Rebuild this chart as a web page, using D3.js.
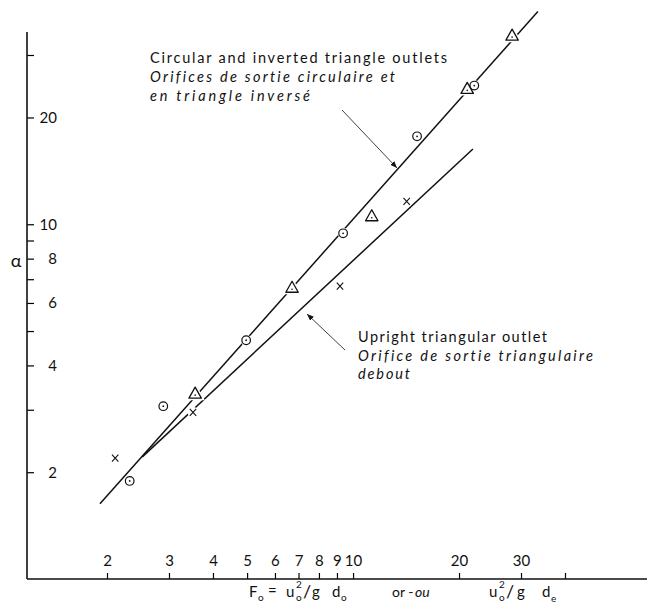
<!DOCTYPE html>
<html>
<head>
<meta charset="utf-8">
<script src="https://cdn.jsdelivr.net/npm/d3@7"></script>
<style>
  body { margin: 0; background: #fff; }
  svg text { font-family: "Lato", "DejaVu Sans", sans-serif; fill: #111; font-variant-ligatures: none; }
</style>
</head>
<body>
<svg id="chart" width="647" height="612"></svg>
<script>
// Data (Fo on x, alpha on y)
var circleX = [2.32, 2.89, 4.97, 9.37, 15.2, 22.1];
var circleY = [1.89, 3.07, 4.71, 9.43, 17.7, 24.6];
var triX = [3.56, 6.71, 11.3, 21.1, 28.3];
var triY = [3.32, 6.6, 10.5, 24.0, 33.9];
var crossX = [2.11, 3.51, 9.18, 14.2];
var crossY = [2.19, 2.95, 6.69, 11.6];

// fitted lines, end points
var upperLine = [[1.91, 1.63], [33.5, 39.8]];
var lowerLine = [[2.52, 2.21], [21.9, 16.3]];

var xTicks = [2, 3, 4, 5, 6, 7, 8, 9, 10, 20, 30, 40];
var xLabels = [2, 3, 4, 5, 6, 7, 8, 9, 10, 20, 30];
var yTicks = [2, 3, 4, 5, 6, 7, 8, 9, 10, 20, 30];
var yLabels = [2, 4, 6, 8, 10, 20];

var svg = d3.select("#chart");

var x = d3.scaleLog().domain([2, 40]).range([107, 565]);
var y = d3.scaleLog().domain([1, 30]).range([579, 55]);

// axes
var xAxis = d3.axisTop(x)
    .tickValues(xTicks)
    .tickSize(6)
    .tickSizeOuter(0)
    .tickPadding(7)
    .tickFormat(function(d) { return xLabels.indexOf(d) >= 0 ? d : ""; });

var gx = svg.append("g").attr("transform", "translate(0,579)").call(xAxis);
gx.select(".domain").remove();
gx.selectAll("text").style("font-size", "15px");
gx.selectAll("line").attr("stroke-width", 1.2);

var yAxis = d3.axisRight(y)
    .tickValues(yTicks)
    .tickSize(7)
    .tickSizeOuter(0)
    .tickFormat(function(d) { return yLabels.indexOf(d) >= 0 ? d : ""; });

var gy = svg.append("g").attr("transform", "translate(27,0)").call(yAxis);
gy.select(".domain").remove();
gy.selectAll("text")
    .attr("x", 30)
    .attr("text-anchor", "end")
    .style("font-size", "15px");
gy.selectAll("line").attr("stroke-width", 1.2);

// axis lines
svg.append("line")
    .attr("x1", 27).attr("x2", 27)
    .attr("y1", 32).attr("y2", 579)
    .attr("stroke", "#111").attr("stroke-width", 1.6);
svg.append("line")
    .attr("x1", 27).attr("x2", 647)
    .attr("y1", 579).attr("y2", 579)
    .attr("stroke", "#111").attr("stroke-width", 1.6);

// fit lines
var line = d3.line()
    .x(function(d) { return x(d[0]); })
    .y(function(d) { return y(d[1]); });

[upperLine, lowerLine].forEach(function(l) {
  svg.append("path")
      .attr("d", line(l))
      .attr("fill", "none")
      .attr("stroke", "#111")
      .attr("stroke-width", 1.5);
});

// markers
var circles = circleX.map(function(v, i) { return [v, circleY[i]]; });
var tris = triX.map(function(v, i) { return [v, triY[i]]; });
var crosses = crossX.map(function(v, i) { return [v, crossY[i]]; });

var triPath = "M0,-7L6.2,4L-6.2,4Z";

// white halos so the lines break around the symbols
svg.selectAll(".halo-c").data(circles).enter().append("circle")
    .attr("cx", function(d) { return x(d[0]); })
    .attr("cy", function(d) { return y(d[1]); })
    .attr("r", 5.5).attr("fill", "#fff");
svg.selectAll(".halo-t").data(tris).enter().append("path")
    .attr("d", triPath)
    .attr("transform", function(d) { return "translate(" + x(d[0]) + "," + y(d[1]) + ")"; })
    .attr("fill", "#fff").attr("stroke", "#fff").attr("stroke-width", 4);
svg.selectAll(".halo-x").data(crosses).enter().append("circle")
    .attr("cx", function(d) { return x(d[0]); })
    .attr("cy", function(d) { return y(d[1]); })
    .attr("r", 5.5).attr("fill", "#fff");

svg.selectAll(".pt-c").data(circles).enter().append("g")
    .attr("transform", function(d) { return "translate(" + x(d[0]) + "," + y(d[1]) + ")"; })
    .each(function() {
      var g = d3.select(this);
      g.append("circle").attr("r", 4.3).attr("fill", "#fff")
          .attr("stroke", "#111").attr("stroke-width", 1.2);
      g.append("circle").attr("r", 0.9).attr("fill", "#111");
    });

svg.selectAll(".pt-t").data(tris).enter().append("g")
    .attr("transform", function(d) { return "translate(" + x(d[0]) + "," + y(d[1]) + ")"; })
    .each(function() {
      var g = d3.select(this);
      g.append("path").attr("d", triPath).attr("fill", "#fff")
          .attr("stroke", "#111").attr("stroke-width", 1.3)
          .attr("stroke-linejoin", "round");
      g.append("circle").attr("cy", 1).attr("r", 0.8).attr("fill", "#111");
    });

svg.selectAll(".pt-x").data(crosses).enter().append("path")
    .attr("transform", function(d) { return "translate(" + x(d[0]) + "," + y(d[1]) + ")"; })
    .attr("d", "M-3.2,-3.5L3.2,3.5M3.2,-3.5L-3.2,3.5")
    .attr("stroke", "#111").attr("stroke-width", 1.1);

// annotations
var defs = svg.append("defs");
defs.append("marker")
    .attr("id", "arrow")
    .attr("viewBox", "0 0 10 10")
    .attr("refX", 10).attr("refY", 5)
    .attr("markerWidth", 7).attr("markerHeight", 7)
    .attr("markerUnits", "userSpaceOnUse")
    .attr("orient", "auto")
  .append("path")
    .attr("d", "M0,1L10,5L0,9Z")
    .attr("fill", "#111");

function label(txt, px, py, width, italic) {
  svg.append("text")
      .attr("x", px).attr("y", py)
      .attr("textLength", width)
      .attr("lengthAdjust", "spacing")
      .style("font-size", "14.5px")
      .style("font-style", italic ? "italic" : "normal")
      .text(txt);
}

label("Circular and inverted triangle outlets", 150, 63, 297, false);
label("Orifices de sortie circulaire et", 150, 82, 245, true);
label("en triangle inversé", 150, 101, 160, true);

label("Upright triangular outlet", 358, 342, 189, false);
label("Orifice de sortie triangulaire", 358, 361, 235, true);
label("debout", 358, 379, 52, true);

svg.append("line")
    .attr("x1", 342).attr("y1", 110).attr("x2", 397).attr("y2", 168)
    .attr("stroke", "#111").attr("stroke-width", 0.8)
    .attr("marker-end", "url(#arrow)");
svg.append("line")
    .attr("x1", 345).attr("y1", 350).attr("x2", 307).attr("y2", 314)
    .attr("stroke", "#111").attr("stroke-width", 0.8)
    .attr("marker-end", "url(#arrow)");

// y title
svg.append("text")
    .attr("x", 16).attr("y", 267)
    .attr("text-anchor", "middle")
    .style("font-size", "18px")
    .text("α");

// x title  Fo = uo²/g do  or-ou  uo²/g de
var t = svg.append("g").style("font-size", "15px");
function piece(txt, px, py, size, italic) {
  t.append("text").attr("x", px).attr("y", py)
      .style("font-size", size + "px")
      .style("font-style", italic ? "italic" : "normal")
      .text(txt);
}
piece("F", 249, 597, 15);
piece("o", 258, 601, 10);
piece("=", 268, 596, 15);
piece("u", 286, 597, 15);
piece("2", 296, 588, 10);
piece("o", 296, 601, 10);
piece("/", 303, 598, 18);
piece("g", 312, 597, 15);
piece("d", 332, 597, 15);
piece("o", 341, 601, 10);
piece("or -", 392, 597, 14);
piece("ou", 415, 597, 14, true);
piece("u", 489, 597, 15);
piece("2", 499, 588, 10);
piece("o", 499, 601, 10);
piece("/", 506, 598, 18);
piece("g", 517, 597, 15);
piece("d", 542, 597, 15);
piece("e", 551, 602, 10);
</script>
</body>
</html>
